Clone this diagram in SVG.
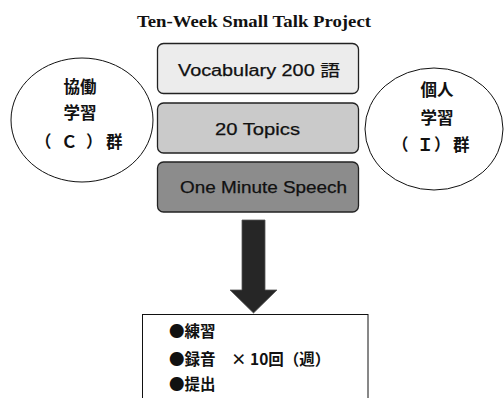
<svg xmlns="http://www.w3.org/2000/svg" width="504" height="398" viewBox="0 0 504 398">
  <style>
    .title { font-family: "Liberation Serif", "DejaVu Serif", serif; font-weight: bold; font-size: 17.5px; fill: #111; }
    .step { stroke: #222; stroke-width: 1.3; }
    .steptxt { font-family: "Liberation Sans", "Noto Sans CJK JP", sans-serif; font-size: 16px; fill: #111; stroke: #111; stroke-width: 0.25; }
    .group { fill: #fff; stroke: #111; stroke-width: 1; }
    .grptxt { font-family: "Noto Sans CJK JP", sans-serif; font-weight: bold; font-size: 16.5px; fill: #111; }
    .list { font-family: "Noto Sans CJK JP", sans-serif; font-weight: bold; font-size: 15.5px; fill: #111; }
  </style>
  <rect width="504" height="398" fill="#fff"/>

  <text class="title" x="137" y="27" textLength="234" lengthAdjust="spacingAndGlyphs">Ten-Week Small Talk Project</text>

  <g id="group-c">
    <ellipse class="group" cx="82" cy="120" rx="71" ry="62"/>
    <text class="grptxt" x="80" y="93" text-anchor="middle">協働</text>
    <text class="grptxt" x="80" y="119" text-anchor="middle">学習</text>
    <text class="grptxt" x="35 61 86 106" y="148">（Ｃ）群</text>
  </g>

  <g id="group-i">
    <ellipse class="group" cx="434" cy="129" rx="69" ry="61"/>
    <text class="grptxt" x="437" y="96" text-anchor="middle">個人</text>
    <text class="grptxt" x="437" y="124" text-anchor="middle">学習</text>
    <text class="grptxt" x="392 417 434 453" y="151">（Ｉ）群</text>
  </g>

  <g id="vocabulary">
    <rect class="step" x="157.5" y="43.5" width="201" height="50" rx="6" fill="#ececec"/>
    <text class="steptxt" x="178" y="76" textLength="162" lengthAdjust="spacingAndGlyphs">Vocabulary 200 語</text>
  </g>

  <g id="topics">
    <rect class="step" x="157.5" y="103" width="201" height="50" rx="6" fill="#cacaca"/>
    <text class="steptxt" x="215" y="135" textLength="85" lengthAdjust="spacingAndGlyphs">20 Topics</text>
  </g>

  <g id="speech">
    <rect class="step" x="157.5" y="162" width="201" height="50" rx="6" fill="#8c8c8c"/>
    <text class="steptxt" x="180" y="193" textLength="167" lengthAdjust="spacingAndGlyphs">One Minute Speech</text>
  </g>

  <g id="connectors">
    <path d="M242 220 H265 V290 H277 L253.5 313 L230 290 H242 Z" fill="#262626" stroke="#555" stroke-width="0.8"/>
  </g>

  <g id="tasks">
    <rect x="142.5" y="314.5" width="225.5" height="100" fill="#fff" stroke="#111" stroke-width="1"/>
    <text class="list" x="169" y="337">●練習</text>
    <text class="list" x="169" y="365">●録音　× 10回（週）</text>
    <text class="list" x="169" y="390">●提出</text>
  </g>
</svg>
